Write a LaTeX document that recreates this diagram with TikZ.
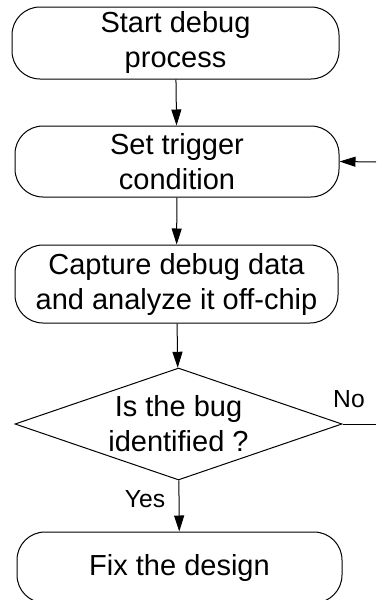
\documentclass[tikz,border=0pt]{standalone}
\usepackage{fontspec}
\setmainfont{Liberation Sans}
\usetikzlibrary{arrows.meta,shapes.geometric}
\begin{document}
\begin{tikzpicture}[x=0.75pt,y=-0.75pt,
  line width=0.75pt,
  bodytext/.style={font=\fontsize{21.75pt}{26.25pt}\selectfont, align=center},
  flowbox/.style={draw, bodytext, rounded corners=21pt, inner sep=0pt},
  decision/.style={draw, diamond, inner sep=0pt},
  branchlabel/.style={font=\fontsize{18.5pt}{22pt}\selectfont, inner sep=0pt},
  flowarrow/.style={-{Triangle[length=12pt,width=7.5pt]}}]
  \useasboundingbox (0,0) rectangle (376,600);

  % process steps
  \node[flowbox, minimum width=327*0.75pt, minimum height=72*0.75pt] (start) at (175.5,43) {Start debug\\process};
  \node[flowbox, minimum width=324*0.75pt, minimum height=71*0.75pt] (trigger) at (177,161.5) {Set trigger\\condition};
  \node[flowbox, minimum width=323*0.75pt, minimum height=78*0.75pt] (capture) at (176.5,284) {Capture debug data\\and analyze it off-chip};
  \node[decision, minimum width=327*0.75pt, minimum height=112*0.75pt] (check) at (178.5,424) {};
  \node[bodytext] (checktext) at (178.5,424) {Is the bug\\identified ?};
  \node[flowbox, minimum width=325*0.75pt, minimum height=71*0.75pt] (fix) at (179.5,567.5) {Fix the design};

  % loop back to the trigger step
  \coordinate (noend) at (376,424);
  \coordinate (loopin) at (376,162);

  % connectors
  \draw[flowarrow] (start) -- (trigger);
  \draw[flowarrow] (trigger) -- (capture);
  \draw[flowarrow] (capture) -- (check);
  \draw[flowarrow] (check) -- (fix);
  \draw (check.east) -- (noend);
  \draw[flowarrow] (loopin) -- (trigger.east);

  % branch labels
  \node[branchlabel] (nolabel) at (349,399) {No};
  \node[branchlabel] (yeslabel) at (145,499) {Yes};
\end{tikzpicture}
\end{document}
